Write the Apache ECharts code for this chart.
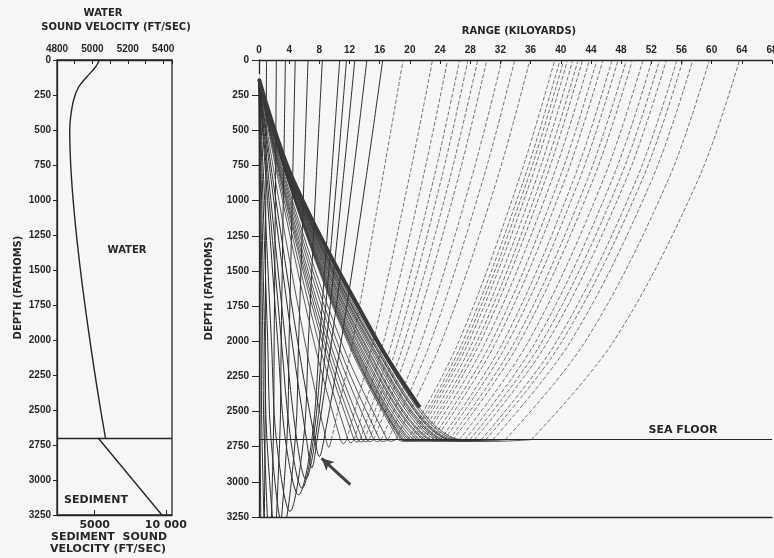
<!DOCTYPE html>
<html>
<head>
<meta charset="utf-8">
<script src="https://cdn.jsdelivr.net/npm/echarts@6/dist/echarts.min.js"></script>
<style>
  html, body { margin: 0; padding: 0; background: #f6f6f4; }
  #chart { width: 774px; height: 558px; }
</style>
</head>
<body>
<div id="chart"></div>
<script>
// left panel: water sound velocity profile (ft/sec vs fathoms)
const velDepth = [0, 50, 121, 193, 286, 407, 500, 2700];
const velWater = [5040, 5018, 4968, 4922, 4894, 4877, 4872, 5074];
// sediment sound velocity below the sea floor
const sedDepth = [2700, 3250];
const sedVel = [5240, 9720];
const sedTicks = [5000, 10000];

const floorDepth = 2700;
const srcDepth = 135;

// right panel: ray paths (range in kiloyards)
// first 11 rays come back up as solid lines, the rest as broken lines
const solidRays = 11;
const raySurface = [1.0, 2.3, 3.5, 4.8, 6.5, 8.4, 10.7, 11.6, 12.7, 14.3, 16.4,
  19.1, 23.0, 25.0, 26.6, 27.7, 29.0, 30.2, 32.2, 33.9, 35.9,
  39.2, 39.9, 40.4, 40.9, 41.6, 42.3, 42.9, 43.8, 44.8, 45.6, 46.8, 47.6,
  48.7, 49.5, 50.9, 52.1, 53.1, 54.0, 55.4, 56.2, 57.5, 59.7, 63.7];
const rayDown850 = [0.04, 0.11, 0.19, 0.29, 0.44, 0.62, 0.93, 1.10, 1.30, 1.60, 1.84,
  2.16, 2.54, 2.71, 2.86, 2.95, 3.04, 3.15, 3.28, 3.41, 3.55,
  3.74, 3.78, 3.80, 3.83, 3.86, 3.90, 3.93, 3.97, 4.02, 4.05, 4.10, 4.13,
  4.17, 4.20, 4.25, 4.28, 4.31, 4.34, 4.37, 4.39, 4.41, 4.44, 4.48];
const rayDown2000 = [0.11, 0.29, 0.51, 0.76, 1.15, 1.65, 2.48, 2.97, 3.51, 4.38, 5.11,
  6.07, 7.26, 7.87, 8.34, 8.65, 9.00, 9.35, 9.86, 10.32, 10.88,
  11.69, 11.85, 11.95, 12.06, 12.22, 12.38, 12.51, 12.71, 12.94, 13.12, 13.37, 13.53,
  13.75, 13.89, 14.16, 14.38, 14.55, 14.69, 14.93, 15.02, 15.18, 15.43, 15.69];
const rayFloorIn = [0.15, 0.4, 0.7, 1.05, 1.6, 2.3, 3.5, 4.2, 5.0, 6.3, 7.4,
  8.9, 10.8, 11.8, 12.6, 13.1, 13.7, 14.3, 15.2, 16.0, 17.0,
  18.5, 18.8, 19.0, 19.2, 19.5, 19.8, 20.05, 20.45, 20.9, 21.25, 21.75, 22.05,
  22.5, 22.8, 23.35, 23.8, 24.15, 24.45, 24.95, 25.15, 25.5, 26.05, 26.6];
const rayTurnRange = [0.47, 1.15, 1.7, 2.4, 3.2, 4.1, 5.25, 5.7, 6.2, 7.0, 8.0,
  9.25, 11.2, 12.2, 13.0, 13.55, 14.15, 14.75, 15.7, 16.55, 17.55,
  19.1, 19.45, 19.7, 19.95, 20.3, 20.65, 20.95, 21.4, 21.9, 22.3, 22.9, 23.3,
  23.85, 24.25, 24.95, 25.55, 26.05, 26.5, 27.2, 27.6, 28.25, 29.35, 31.35];
const rayTurnDepth = [4200, 3900, 3650, 3450, 3330, 3210, 3093, 3045, 2980, 2900, 2820,
  2755, 2730, 2722, 2718, 2716, 2715, 2714, 2713, 2712, 2711,
  2710, 2710, 2710, 2710, 2710, 2710, 2710, 2710, 2710, 2710, 2710, 2710,
  2710, 2710, 2710, 2710, 2710, 2710, 2710, 2710, 2710, 2710, 2712];
const rayFloorOut = [0.8, 1.9, 2.75, 3.7, 4.8, 5.9, 7.0, 7.2, 7.45, 7.7, 8.6,
  9.6, 11.6, 12.6, 13.4, 14.0, 14.6, 15.2, 16.2, 17.1, 18.1,
  19.7, 20.1, 20.4, 20.7, 21.1, 21.5, 21.85, 22.35, 22.9, 23.35, 24.05, 24.55,
  25.2, 25.7, 26.55, 27.3, 27.95, 28.55, 29.45, 30.05, 31.0, 32.65, 36.1];
const rayUp2000 = [0.84, 2.01, 2.94, 3.99, 5.25, 6.55, 8.02, 8.43, 8.94, 9.62, 10.89,
  12.43, 15.14, 16.53, 17.66, 18.45, 19.30, 20.15, 21.54, 22.78, 24.22,
  26.51, 27.05, 27.45, 27.84, 28.38, 28.92, 29.39, 30.09, 30.86, 31.48, 32.43, 33.07,
  33.95, 34.61, 35.74, 36.72, 37.55, 38.31, 39.47, 40.18, 41.32, 43.27, 47.01];
const rayUp850 = [0.91, 2.19, 3.26, 4.46, 5.96, 7.58, 9.57, 10.30, 11.15, 12.40, 14.16,
  16.34, 19.86, 21.69, 23.14, 24.15, 25.26, 26.35, 28.12, 29.69, 31.55,
  34.46, 35.12, 35.60, 36.07, 36.74, 37.40, 37.97, 38.83, 39.78, 40.55, 41.70, 42.47,
  43.53, 44.30, 45.65, 46.82, 47.79, 48.66, 50.03, 50.81, 52.09, 54.26, 58.22];

// the heavy outer edge of the ray bundle
const causticRange = [0, 4.5, 15.7, 21.3];
const causticDepth = [135, 850, 2000, 2470];
// arrow pointing at the cusp
const arrowTail = [12.1, 3020];
const arrowHead = [8.3, 2833];

const ink = '#262626';
const tickFont = { color: ink, fontSize: 10, fontWeight: 'bold', fontFamily: 'Liberation Sans' };
const capFont = 'bold 10px "DejaVu Sans"';

const chart = echarts.init(document.getElementById('chart'));

const series = [];
series.push({
  type: 'line', xAxisIndex: 0, yAxisIndex: 0, symbol: 'none', smooth: 0.35, silent: true,
  data: velDepth.map((d, i) => [velWater[i], d]),
  lineStyle: { color: ink, width: 1.4 },
  markLine: {
    silent: true, symbol: 'none', label: { show: false },
    lineStyle: { color: ink, width: 1.3, type: 'solid' },
    data: [{ yAxis: floorDepth }]
  }
});
series.push({
  type: 'line', xAxisIndex: 1, yAxisIndex: 0, symbol: 'none', silent: true,
  data: sedDepth.map((d, i) => [sedVel[i], d]),
  lineStyle: { color: ink, width: 1.4 }
});

for (let i = 0; i < raySurface.length; i++) {
  const down = [[0, srcDepth], [rayDown850[i], 850], [rayDown2000[i], 2000],
    [rayFloorIn[i], floorDepth], [rayTurnRange[i], rayTurnDepth[i]], [rayFloorOut[i], floorDepth]];
  const up = [[rayFloorOut[i], floorDepth], [rayUp2000[i], 2000], [rayUp850[i], 850], [raySurface[i], 0]];
  if (i < solidRays) {
    series.push({
      type: 'line', xAxisIndex: 2, yAxisIndex: 1, symbol: 'none', smooth: 0.35, silent: true,
      data: down.concat(up.slice(1)),
      lineStyle: { color: '#2e2e2e', width: 1 }
    });
  } else {
    series.push({
      type: 'line', xAxisIndex: 2, yAxisIndex: 1, symbol: 'none', smooth: 0.35, silent: true,
      data: down, lineStyle: { color: '#333', width: 0.8 }
    });
    series.push({
      type: 'line', xAxisIndex: 2, yAxisIndex: 1, symbol: 'none', smooth: 0.35, silent: true,
      data: up, lineStyle: { color: '#555', width: 0.8, type: [4, 2] }
    });
  }
}

series.push({
  type: 'line', xAxisIndex: 2, yAxisIndex: 1, symbol: 'none', smooth: 0.35, silent: true,
  data: causticRange.map((r, i) => [r, causticDepth[i]]),
  lineStyle: { color: '#3a3a3a', width: 4 },
  markLine: {
    silent: true, symbol: 'none', label: { show: false },
    lineStyle: { color: ink, width: 1.2, type: 'solid' },
    data: [{ yAxis: floorDepth }]
  }
});
series.push({
  type: 'scatter', xAxisIndex: 2, yAxisIndex: 1, silent: true,
  symbol: 'emptyCircle', symbolSize: 8,
  itemStyle: { color: '#f6f6f4', borderColor: ink, borderWidth: 1 },
  data: [[0, srcDepth]],
  markLine: {
    silent: true, symbol: ['none', 'arrow'], symbolSize: [9, 12], label: { show: false },
    lineStyle: { color: '#444', width: 3, type: 'solid' },
    data: [[{ coord: arrowTail }, { coord: arrowHead }]]
  }
});

const plain = v => String(v);

const option = {
  backgroundColor: '#f6f6f4',
  animation: false,
  grid: [
    { left: 57, top: 60, width: 115, height: 455, show: true, borderColor: ink, borderWidth: 1.3,
      backgroundColor: 'transparent', outerBoundsMode: 'none' },
    { left: 259, top: 60, width: 513, height: 457, outerBoundsMode: 'none' }
  ],
  xAxis: [
    { gridIndex: 0, type: 'value', position: 'top', min: 4800, max: 5450, interval: 100,
      axisLine: { show: true, lineStyle: { color: ink, width: 1.3 } },
      axisTick: { show: true, inside: true, length: 4, lineStyle: { color: ink } },
      axisLabel: Object.assign({ margin: 6, formatter: v => (v % 200 === 0 ? String(v) : '') }, tickFont),
      splitLine: { show: false } },
    { gridIndex: 0, type: 'value', position: 'bottom', min: 2350, max: 10430,
      axisLine: { show: true, lineStyle: { color: ink, width: 1.3 } },
      axisTick: { show: true, inside: true, length: 5, customValues: sedTicks, lineStyle: { color: ink } },
      axisLabel: { customValues: sedTicks, margin: 5, color: ink, fontSize: 11, fontWeight: 'bold',
        fontFamily: 'DejaVu Sans', formatter: v => (v === 10000 ? '10 000' : String(v)) },
      splitLine: { show: false } },
    { gridIndex: 1, type: 'value', position: 'top', min: 0, max: 68, interval: 4,
      axisLine: { show: true, lineStyle: { color: ink, width: 1.3 } },
      axisTick: { show: true, inside: true, length: 4, lineStyle: { color: ink } },
      axisLabel: Object.assign({ margin: 5, formatter: plain }, tickFont),
      splitLine: { show: false } },
    { gridIndex: 1, type: 'value', position: 'bottom', min: 0, max: 68,
      axisLine: { show: true, lineStyle: { color: ink, width: 1.3 } },
      axisTick: { show: false }, axisLabel: { show: false }, splitLine: { show: false } }
  ],
  yAxis: [
    { gridIndex: 0, type: 'value', inverse: true, min: 0, max: 3250, interval: 250,
      axisLine: { show: true, lineStyle: { color: ink, width: 1.3 } },
      axisTick: { show: true, length: 4, lineStyle: { color: ink } },
      axisLabel: Object.assign({ margin: 6, formatter: plain }, tickFont),
      splitLine: { show: false },
      name: 'DEPTH (FATHOMS)', nameLocation: 'middle', nameGap: 34, nameRotate: 90,
      nameTextStyle: { color: ink, fontSize: 10, fontWeight: 'bold', fontFamily: 'DejaVu Sans' } },
    { gridIndex: 1, type: 'value', inverse: true, min: 0, max: 3250, interval: 250,
      axisLine: { show: true, lineStyle: { color: ink, width: 1.3 } },
      axisTick: { show: true, length: 7, lineStyle: { color: ink } },
      axisLabel: Object.assign({ margin: 10, formatter: plain }, tickFont),
      splitLine: { show: false },
      name: 'DEPTH (FATHOMS)', nameLocation: 'middle', nameGap: 45, nameRotate: 90,
      nameTextStyle: { color: ink, fontSize: 10, fontWeight: 'bold', fontFamily: 'DejaVu Sans' } }
  ],
  graphic: [
    { type: 'text', x: 103, y: 13, style: { text: 'WATER', font: capFont, fill: ink, textAlign: 'center', textVerticalAlign: 'middle' } },
    { type: 'text', x: 116, y: 27, style: { text: 'SOUND VELOCITY (FT/SEC)', font: capFont, fill: ink, textAlign: 'center', textVerticalAlign: 'middle' } },
    { type: 'text', x: 127, y: 250, style: { text: 'WATER', font: capFont, fill: ink, textAlign: 'center', textVerticalAlign: 'middle' } },
    { type: 'text', x: 96, y: 500, style: { text: 'SEDIMENT', font: 'bold 11px "DejaVu Sans"', fill: ink, textAlign: 'center', textVerticalAlign: 'middle' } },
    { type: 'text', x: 109, y: 537, style: { text: 'SEDIMENT  SOUND', font: 'bold 11px "DejaVu Sans"', fill: ink, textAlign: 'center', textVerticalAlign: 'middle' } },
    { type: 'text', x: 108, y: 549, style: { text: 'VELOCITY (FT/SEC)', font: 'bold 11px "DejaVu Sans"', fill: ink, textAlign: 'center', textVerticalAlign: 'middle' } },
    { type: 'text', x: 519, y: 31, style: { text: 'RANGE (KILOYARDS)', font: capFont, fill: ink, textAlign: 'center', textVerticalAlign: 'middle' } },
    { type: 'text', x: 683, y: 430, style: { text: 'SEA FLOOR', font: 'bold 11px "DejaVu Sans"', fill: ink, textAlign: 'center', textVerticalAlign: 'middle' } }
  ],
  series: series
};

chart.setOption(option);
</script>
</body>
</html>
